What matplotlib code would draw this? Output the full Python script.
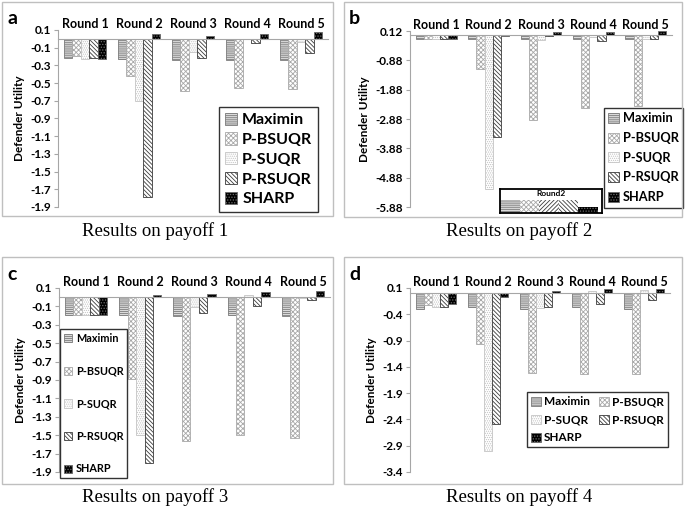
import matplotlib
matplotlib.use('Agg')
import matplotlib.pyplot as plt
from matplotlib.patches import Rectangle
import numpy as np

# ---- data ----
rounds = ['Round 1', 'Round 2', 'Round 3', 'Round 4', 'Round 5']
series = ['Maximin', 'P-BSUQR', 'P-SUQR', 'P-RSUQR', 'SHARP']

# payoff 1 (one list per series, one value per round)
p1_maximin = [-0.215, -0.23, -0.24, -0.235, -0.235]
p1_bsuqr = [-0.19, -0.42, -0.59, -0.56, -0.57]
p1_suqr = [-0.23, -0.70, -0.15, -0.005, -0.04]
p1_rsuqr = [-0.215, -1.79, -0.22, -0.05, -0.16]
p1_sharp = [-0.225, 0.05, 0.03, 0.05, 0.08]

# payoff 2
p2_maximin = [-0.14, -0.14, -0.14, -0.14, -0.14]
p2_bsuqr = [-0.14, -1.16, -2.93, -2.49, -2.43]
p2_suqr = [-0.14, -5.25, -0.18, -0.08, -0.14]
p2_rsuqr = [-0.14, -3.50, -0.06, -0.22, -0.14]
p2_sharp = [-0.14, -0.06, 0.10, 0.10, 0.13]

# payoff 3
p3_maximin = [-0.19, -0.19, -0.20, -0.19, -0.20]
p3_bsuqr = [-0.19, -0.89, -1.56, -1.50, -1.53]
p3_suqr = [-0.19, -1.50, -0.105, 0.02, -0.005]
p3_rsuqr = [-0.19, -1.80, -0.17, -0.10, -0.035]
p3_sharp = [-0.19, 0.02, 0.04, 0.055, 0.065]

# payoff 4
p4_maximin = [-0.29, -0.27, -0.29, -0.27, -0.29]
p4_bsuqr = [-0.23, -0.96, -1.52, -1.54, -1.53]
p4_suqr = [-0.26, -3.00, -0.28, 0.04, 0.06]
p4_rsuqr = [-0.26, -2.49, -0.26, -0.21, -0.12]
p4_sharp = [-0.21, -0.07, 0.04, 0.08, 0.08]

yticks_a = [0.1, -0.1, -0.3, -0.5, -0.7, -0.9, -1.1, -1.3, -1.5, -1.7, -1.9]
yticks_b = [0.12, -0.88, -1.88, -2.88, -3.88, -4.88, -5.88]
yticks_c = yticks_a
yticks_d = [0.1, -0.4, -0.9, -1.4, -1.9, -2.4, -2.9, -3.4]

# bar looks (face, hatch, hatch/edge colour)
styles = [
    ('#dadada', '--------', '#7a7a7a'),
    ('white', 'xxxxxxx', '#a8a8a8'),
    ('white', '........', '#c4c4c4'),
    ('white', '\\\\\\\\\\\\\\\\', '#3c3c3c'),
    ('black', '......', '#6a6a6a'),
]

plt.rcParams['font.family'] = ['Lato', 'DejaVu Sans']
plt.rcParams['hatch.linewidth'] = 0.6

W, H = 685, 508
fig = plt.figure(figsize=(W / 100, H / 100), dpi=100)


def fr(x0, y0, x1, y1):
    # pixel box -> figure fraction [left, bottom, width, height]
    return [x0 / W, 1 - y1 / H, (x1 - x0) / W, (y1 - y0) / H]


def panel(box, frame, data, yticks, letter, caption, cap_xy, leg):
    # outer grey frame
    fx0, fy0, fx1, fy1 = frame
    fig.patches.append(Rectangle((fx0 / W, 1 - fy1 / H), (fx1 - fx0) / W, (fy1 - fy0) / H,
                                 transform=fig.transFigure, fill=False,
                                 edgecolor='#bfbfbf', linewidth=1.0))
    ax = fig.add_axes(fr(*box))
    x = np.arange(len(rounds))
    bw = 0.156
    handles = []
    for i, (vals, st) in enumerate(zip(data, styles)):
        b = ax.bar(x + (i - 2) * bw, vals, bw, color=st[0], hatch=st[1],
                   edgecolor=st[2], linewidth=0.6, label=series[i])
        handles.append(b)
    ax.set_xlim(-0.5, len(rounds) - 0.5)
    ax.set_ylim(yticks[-1], yticks[0])
    ax.set_yticks(yticks)
    ax.set_yticklabels([f'{t:g}' if abs(t) != 0.12 else f'{t:.2f}' for t in yticks])
    for s in ['top', 'right']:
        ax.spines[s].set_visible(False)
    ax.spines['bottom'].set_position(('data', 0))
    ax.spines['bottom'].set_color('#a6a6a6')
    ax.spines['left'].set_color('#a6a6a6')
    ax.tick_params(axis='y', length=3, color='#a6a6a6', labelsize=8.5, pad=2)
    for lab in ax.get_yticklabels():
        lab.set_fontweight('bold')
    ax.set_xticks(x)
    ax.tick_params(axis='x', length=0, labelbottom=False)
    for xi, r in zip(x, rounds):
        ax.text(xi, 1.0, r, transform=ax.get_xaxis_transform(), ha='center',
                va='bottom', fontsize=9, fontweight='bold')
    ax.set_ylabel('Defender Utility', fontsize=8.5, fontweight='bold', labelpad=4)
    fig.text((fx0 + 5) / W, 1 - 17 / H - fy0 / H, letter, fontsize=14,
             fontweight='bold', va='center', ha='left')
    fig.text(cap_xy[0] / W, 1 - cap_xy[1] / H, caption, fontsize=13.5,
             family='Liberation Serif', ha='center', va='center')
    lx, ly, fs, ncol, lsp = leg
    if ncol == 2:
        # row-wise order like the original: Maximin P-BSUQR / P-SUQR P-RSUQR / SHARP
        handles = [handles[0], handles[2], handles[4], handles[1], handles[3]]
    lg = ax.legend(handles=handles, loc='upper left', bbox_to_anchor=(lx / W, 1 - ly / H),
                   bbox_transform=fig.transFigure, fontsize=fs, ncol=ncol,
                   frameon=True, fancybox=False, handlelength=0.8, handleheight=0.8,
                   handletextpad=0.3, borderpad=0.35, labelspacing=lsp,
                   columnspacing=0.8, borderaxespad=0)
    lg.get_frame().set_edgecolor('black')
    lg.get_frame().set_linewidth(1.0)
    for t in lg.get_texts():
        t.set_fontweight('bold')
    return ax


data_a = [p1_maximin, p1_bsuqr, p1_suqr, p1_rsuqr, p1_sharp]
data_b = [p2_maximin, p2_bsuqr, p2_suqr, p2_rsuqr, p2_sharp]
data_c = [p3_maximin, p3_bsuqr, p3_suqr, p3_rsuqr, p3_sharp]
data_d = [p4_maximin, p4_bsuqr, p4_suqr, p4_rsuqr, p4_sharp]

panel((58, 30, 328, 207), (2, 2, 333, 216), data_a, yticks_a, 'a',
      'Results on payoff 1', (155, 231), (219, 107, 11.5, 1, 0.32))
panel((410, 31, 672, 207), (344, 2, 682, 217), data_b, yticks_b, 'b',
      'Results on payoff 2', (519, 231), (604, 108, 9.2, 1, 0.6))
panel((59, 288, 330, 472), (2, 257, 333, 484), data_c, yticks_c, 'c',
      'Results on payoff 3', (155, 497), (60, 329, 7.8, 1, 2.0))
panel((410, 288, 670, 472), (344, 257, 682, 484), data_d, yticks_d, 'd',
      'Results on payoff 4', (519, 497), (527, 392, 8.5, 2, 0.6))

# small "Round2" inset in panel b
inset_widths = [1, 1, 1, 1, 1]
inset_styles = [styles[0], styles[1], ('white', '////////', '#3c3c3c'), styles[3], styles[4]]
ins = fig.add_axes(fr(500, 189, 602, 213))
left = 0
for wdt, st in zip(inset_widths, inset_styles):
    ins.barh(0, wdt, left=left, height=1.0 if st[0] != 'black' else 0.5,
             align='edge', color=st[0], hatch=st[1], edgecolor=st[2], linewidth=0)
    left += wdt
ins.set_xlim(0, sum(inset_widths) + 0.2)
ins.set_ylim(0, 1.9)
ins.set_xticks([])
ins.set_yticks([])
for s in ins.spines.values():
    s.set_linewidth(1.3)
ins.text(0.5, 0.97, 'Round2', transform=ins.transAxes, ha='center', va='top',
         fontsize=6, fontweight='bold')

fig.savefig('out.png', dpi=100)
